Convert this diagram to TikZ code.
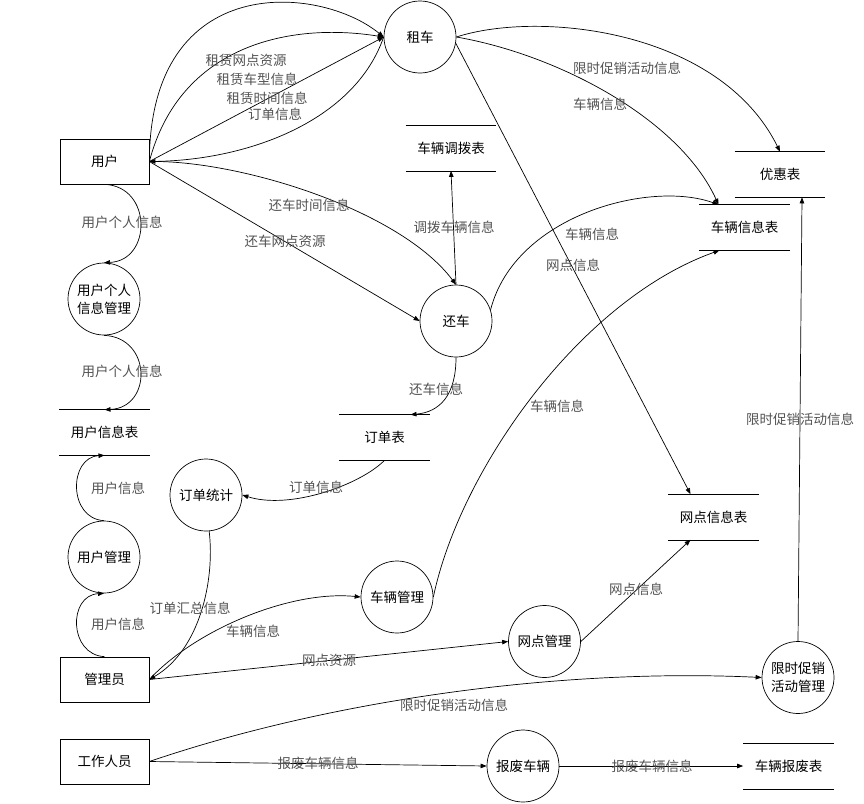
\documentclass[tikz,border=0pt]{standalone}
\usepackage{fontspec}
\setmainfont{Noto Sans CJK SC}
\usetikzlibrary{arrows.meta}
\colorlet{flowtext}{black!68}

\begin{document}
\begin{tikzpicture}[x=1pt, y=1pt, line width=0.7pt,
    font=\fontsize{13.5}{18}\selectfont,
    process/.style={circle, draw, minimum size=72pt, inner sep=0pt, align=center},
    entity/.style={draw, minimum width=89pt, minimum height=45pt, inner sep=0pt},
    datastore/.style={minimum width=90pt, minimum height=45pt, inner sep=0pt},
    flow/.style={-{Triangle[length=6pt, width=4.5pt]}},
    flowlabel/.style={text=flowtext, inner sep=0pt}]
  \useasboundingbox (0,0) rectangle (864,-803);

  % external entities: the two plain boxes on the left
  \node[entity] (user)  at (104.5,-161.5) {用户};
  \node[entity] (admin) at (104.5,-679.5) {管理员};
  \node[entity] (staff) at (104.5,-761.5) {工作人员};

  % processes -- circles, 72pt across
  \node[process] (rent)   at (420,-37)    {租车};
  \node[process] (return) at (456,-321)   {还车};
  \node[process] (upm)    at (104,-299)   {用户个人\\信息管理};
  \node[process] (um)     at (104,-557)   {用户管理};
  \node[process] (stat)   at (206,-495)   {订单统计};
  \node[process] (vm)     at (397,-597)   {车辆管理};
  \node[process] (sm)     at (544.5,-641.5) {网点管理};
  \node[process] (promo)  at (798,-677.5) {限时促销\\活动管理};
  \node[process] (scrap)  at (523,-766)   {报废车辆};

  % data stores: open boxes, only the top and bottom rules are drawn
  \node[datastore] (dispatch)  at (451,-148)     {车辆调拨表};
  \node[datastore] (coupon)    at (780,-174.5)   {优惠表};
  \node[datastore] (vinfo)     at (744.5,-227.5) {车辆信息表};
  \node[datastore] (uinfo)     at (104.5,-432.5) {用户信息表};
  \node[datastore] (order)     at (384.5,-437.5) {订单表};
  \node[datastore] (site)      at (713.5,-517)   {网点信息表};
  \node[datastore] (scraplist) at (788.5,-766)   {车辆报废表};
  \foreach \s in {dispatch, coupon, vinfo, uinfo, order, site, scraplist}
    \draw (\s.north west) -- (\s.north east) (\s.south west) -- (\s.south east);

  % user <-> rent
  \draw[flow] (user.east) .. controls (150,30) and (320,15) .. (rent.west);
  \draw[flow] (user.east) .. controls (180,-45) and (290,-22) .. (rent.west);
  \draw[flow] (user.east) -- (rent.west);
  \draw[flow] (rent.west) .. controls (355,-120) and (250,-160) .. (user.east);
  \node[flowlabel] (l-rsite) at (246,-60)  {租赁网点资源};
  \node[flowlabel] (l-rtype) at (257,-79)  {租赁车型信息};
  \node[flowlabel] (l-rtime) at (267,-98)  {租赁时间信息};
  \node[flowlabel] (l-rord)  at (275,-114) {订单信息};

  % user -> return
  \draw[flow] (user.east) .. controls (240,-160) and (400,-210) .. (return.north);
  \draw[flow] (user.east) -- (return.west);
  \node[flowlabel] (l-btime) at (309,-205) {还车时间信息};
  \node[flowlabel] (l-bsite) at (285,-241) {还车网点资源};

  % user side, down the left column
  \draw[flow] (user.south) .. controls +(48,-2) and +(48,2) .. (upm.north);
  \draw[flow] (upm.south) .. controls +(48,-2) and +(48,2) .. (uinfo.north);
  \draw[flow] (um.north) .. controls +(-36,2) and +(-36,-2) .. (uinfo.south);
  \draw[flow] (admin.north) .. controls +(-36,2) and +(-36,-2) .. (um.south);
  \node[flowlabel] (l-up1) at (122,-222) {用户个人信息};
  \node[flowlabel] (l-up2) at (122,-371) {用户个人信息};
  \node[flowlabel] (l-ui1) at (118,-488) {用户信息};
  \node[flowlabel] (l-ui2) at (118,-624) {用户信息};

  % rent -> stores on the right
  \draw[flow] (rent.east) .. controls (540,-10) and (720,-30) .. (coupon.north);
  \draw[flow] (rent.east) .. controls (560,-55) and (680,-120) .. ([xshift=-26pt]vinfo.north);
  \draw[flow] (rent.-10) -- ([xshift=-23pt]site.north);
  \node[flowlabel] (l-promo1) at (627,-68)  {限时促销活动信息};
  \node[flowlabel] (l-vi1)    at (600,-104) {车辆信息};
  \node[flowlabel] (l-si1)    at (573,-265) {网点信息};

  % return -> stores
  \draw[flow] (return.north) -- (dispatch.south);
  \draw[flow] (return.18) .. controls (515,-215) and (650,-180) .. ([xshift=-26pt]vinfo.north);
  \draw[flow] (return.south) .. controls (456,-395) and (440,-412) .. ([xshift=26pt]order.north);
  \node[flowlabel] (l-disp) at (454,-227) {调拨车辆信息};
  \node[flowlabel] (l-vi2)  at (592,-234) {车辆信息};
  \node[flowlabel] (l-bk)   at (436,-389) {还车信息};

  % order statistics
  \draw[flow] (order.south) .. controls (360,-485) and (290,-510) .. (stat.east);
  \draw[flow] (stat.-85) .. controls (215,-580) and (200,-650) .. (admin.east);
  \node[flowlabel] (l-ord) at (316,-487) {订单信息};
  \node[flowlabel] (l-sum) at (190,-608) {订单汇总信息};

  % admin -> vehicle / site management
  \draw[flow] (admin.east) .. controls (195,-630) and (290,-590) .. (vm.west);
  \draw[flow] (vm.east) .. controls (460,-470) and (580,-300) .. ([xshift=-25pt]vinfo.south);
  \draw[flow] (admin.east) -- (sm.west);
  \draw[flow] (sm.east) -- ([xshift=-23pt]site.south);
  \node[flowlabel] (l-vi3) at (253,-631) {车辆信息};
  \node[flowlabel] (l-vi4) at (557,-406) {车辆信息};
  \node[flowlabel] (l-sr)  at (329,-660) {网点资源};
  \node[flowlabel] (l-si2) at (636,-589) {网点信息};

  % staff: promotions and scrapping
  \draw[flow] (staff.east) .. controls (330,-700) and (560,-668) .. (promo.west);
  \draw[flow] (promo.north) -- ([xshift=22pt]coupon.south);
  \draw[flow] (staff.east) -- (scrap.west);
  \draw[flow] (scrap.east) -- (scraplist.west);
  \node[flowlabel] (l-promo2) at (454,-705) {限时促销活动信息};
  \node[flowlabel] (l-promo3) at (800,-419) {限时促销活动信息};
  \node[flowlabel] (l-sc1)    at (318,-763) {报废车辆信息};
  \node[flowlabel] (l-sc2)    at (652,-766) {报废车辆信息};
\end{tikzpicture}
\end{document}
